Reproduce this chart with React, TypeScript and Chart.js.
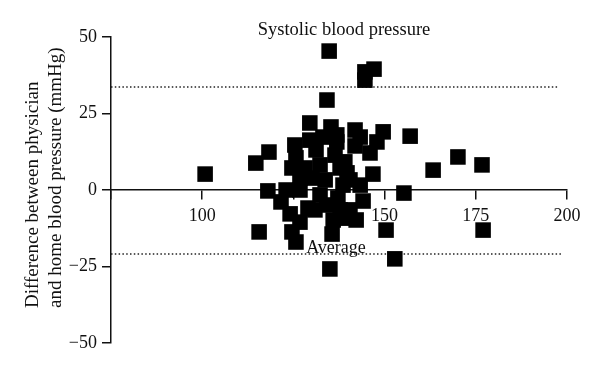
import React, { useEffect, useRef } from "react";
import { Chart, registerables } from "chart.js";

Chart.register(...registerables);

// Systolic blood pressure (mmHg), x values
const sbp = [
  100.8, 114.7, 118.3, 115.6, 118.0, 121.6, 124.1, 124.6, 125.7, 126.8,
  129.0, 125.7, 125.4, 129.5, 129.5, 131.2, 134.2, 134.8, 135.3, 133.1,
  136.9, 136.4, 132.3, 128.2, 137.8, 133.7, 130.1, 126.8, 132.3, 134.2,
  130.9, 137.2, 135.6, 135.0, 138.6, 139.1, 142.2, 140.5, 144.1, 143.3,
  146.8, 139.1, 139.7, 141.9, 143.3, 141.9, 146.0, 147.9, 149.6, 144.6,
  144.6, 147.1, 157.0, 163.3, 170.1, 176.7, 177.0, 155.3, 150.4, 152.8,
  136.9, 124.6, 126.8, 123.0, 140.5, 137.8, 135.9,
];
// Difference between physician and home blood pressure (mmHg), y values
const diff = [
  5.2, 8.8, 12.4, -13.7, -0.3, -3.9, -7.8, -13.7, -17.0, -10.5,
  -5.9, 10.5, 14.7, 21.9, 16.3, 13.1, 29.4, 45.4, 20.6, 17.3,
  15.7, 11.4, 8.2, 7.2, 7.2, 3.3, 3.9, 3.9, -1.6, -4.9,
  -6.5, -2.6, -14.4, -25.8, 1.6, -9.2, -9.8, -6.5, -3.6, 1.6,
  5.2, 9.2, 5.6, 19.6, 17.3, 14.4, 12.1, 15.7, 19.0, 35.9,
  38.6, 39.5, 17.6, 6.5, 10.8, 8.2, -13.1, -1.0, -13.1, -22.5,
  18.0, 7.2, 0.0, 0.0, 3.3, -6.5, -9.8,
];

const upperLimit = 33.7;
const lowerLimit = -20.9;
const upperLineX = [75, 197.3];
const lowerLineX = [75, 198.7];
const xTicks = [75, 100, 125, 150, 175, 200];
const xLabelsShown = [100, 150, 175, 200];
const yTicks = [-50, -25, 0, 25, 50];
const chartTitle = "Systolic blood pressure";
const yTitle = ["Difference between physician", "and home blood pressure (mmHg)"];
const avgLabel = "Average";
const avgLabelX = 128.5;

const FONT = "'Liberation Serif', 'DejaVu Serif', serif";
const INK = "#111";

export default function App() {
  const ref = useRef<HTMLCanvasElement>(null);

  useEffect(() => {
    if (!ref.current) return;

    const textPlugin = {
      id: "texts",
      beforeDatasetsDraw(chart: any) {
        const { ctx, scales } = chart;
        ctx.save();
        ctx.fillStyle = INK;
        ctx.font = `18.5px ${FONT}`;
        ctx.textAlign = "center";
        ctx.textBaseline = "alphabetic";
        ctx.fillText(chartTitle, 344, 35);

        ctx.font = `18px ${FONT}`;
        ctx.textAlign = "left";
        ctx.fillText(
          avgLabel,
          scales.x.getPixelForValue(avgLabelX),
          scales.y.getPixelForValue(lowerLimit) - 1
        );

        ctx.translate(0, 308);
        ctx.rotate(-Math.PI / 2);
        ctx.textAlign = "left";
        ctx.textBaseline = "alphabetic";
        ctx.font = `19px ${FONT}`;
        ctx.fillText(yTitle[0], 0, 38);
        ctx.fillText(yTitle[1], 0, 61);
        ctx.restore();
      },
    };

    const points = sbp.map((x, i) => ({ x, y: diff[i] }));

    const chart = new Chart(ref.current, {
      type: "scatter",
      data: {
        datasets: [
          {
            type: "scatter",
            data: points,
            pointStyle: "rect",
            pointRadius: 11,
            backgroundColor: "#000",
            borderWidth: 0,
          } as any,
          {
            type: "line",
            data: upperLineX.map((x) => ({ x, y: upperLimit })),
            borderColor: "#222",
            borderWidth: 1.5,
            borderDash: [1.5, 2.3],
            pointRadius: 0,
            fill: false,
          } as any,
          {
            type: "line",
            data: lowerLineX.map((x) => ({ x, y: lowerLimit })),
            borderColor: "#222",
            borderWidth: 1.5,
            borderDash: [1.5, 2.3],
            pointRadius: 0,
            fill: false,
          } as any,
        ],
      },
      options: {
        animation: false,
        responsive: false,
        layout: { padding: { top: 37, bottom: 44, left: 0, right: 33 } },
        plugins: {
          legend: { display: false },
          tooltip: { enabled: false },
          title: { display: false },
        },
        scales: {
          x: {
            type: "linear",
            min: 75,
            max: 200,
            position: { y: 0 } as any,
            afterBuildTicks: (s: any) => {
              s.ticks = xTicks.map((v) => ({ value: v }));
            },
            ticks: {
              callback: (v: any) => (xLabelsShown.includes(Number(v)) ? String(v) : ""),
              font: { family: FONT, size: 18 },
              color: INK,
              padding: 6,
              maxRotation: 0,
              autoSkip: false,
            },
            grid: {
              drawOnChartArea: false,
              drawTicks: true,
              tickLength: 9,
              color: INK,
              lineWidth: 1.5,
            },
            border: { display: true, color: INK, width: 1.5 },
          },
          y: {
            type: "linear",
            min: -50,
            max: 50,
            afterBuildTicks: (s: any) => {
              s.ticks = yTicks.map((v) => ({ value: v }));
            },
            afterFit: (s: any) => {
              s.width = 111;
            },
            ticks: {
              callback: (v: any) => {
                const n = Number(v);
                return n < 0 ? "\u2212" + Math.abs(n) : String(n);
              },
              font: { family: FONT, size: 18 },
              color: INK,
              padding: 5,
            },
            grid: {
              drawOnChartArea: false,
              drawTicks: true,
              tickLength: 9,
              color: INK,
              lineWidth: 1.5,
            },
            border: { display: true, color: INK, width: 1.5 },
          },
        },
      },
      plugins: [textPlugin],
    });

    return () => chart.destroy();
  }, []);

  return (
    <div style={{ position: "fixed", left: 0, top: 0, width: 600, height: 387, background: "#fff" }}>
      <canvas ref={ref} width={600} height={387} style={{ width: 600, height: 387 }} />
    </div>
  );
}
